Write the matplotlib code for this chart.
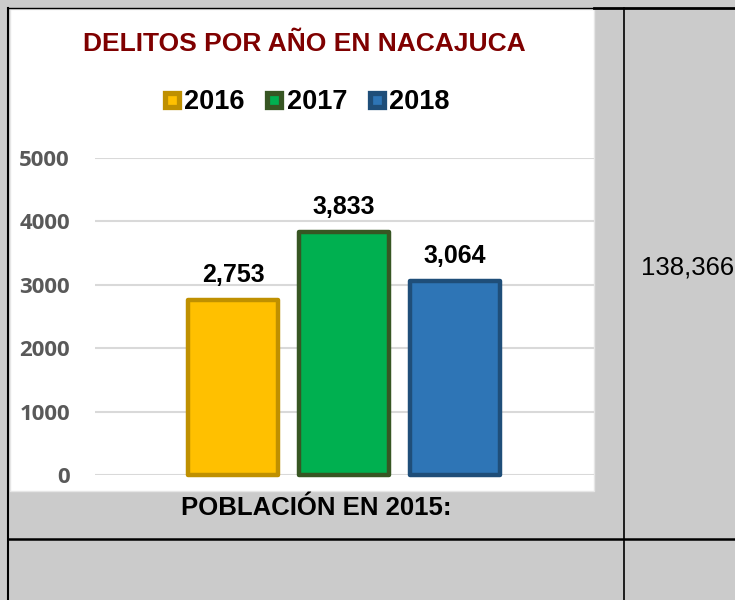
import matplotlib

matplotlib.use("Agg")

import matplotlib.pyplot as plt
from matplotlib.lines import Line2D
from matplotlib.patches import Rectangle


YEARS = ["2016", "2017", "2018"]
DELITOS = [2753, 3833, 3064]
Y_TICKS = [0, 1000, 2000, 3000, 4000, 5000]
TITLE = "DELITOS POR AÑO EN NACAJUCA"
POBLACION_LABEL = "POBLACIÓN EN 2015:"
POBLACION = 138366

FACE_COLORS = ["#FFC000", "#00B050", "#2E75B6"]
EDGE_COLORS = ["#BF9000", "#375623", "#1F4E79"]

W, H = 735, 600


def fx(px):
    return px / W


def fy(py):
    return 1 - py / H


fig = plt.figure(figsize=(W / 100, H / 100), dpi=100)
fig.patch.set_facecolor("#CBCBCB")

# white chart area pasted into the table cell
fig.patches.append(
    Rectangle((fx(10), fy(491)), fx(594) - fx(10), fy(9) - fy(491),
              transform=fig.transFigure, facecolor="white", edgecolor="#E6E6E6",
              linewidth=1.0, zorder=-10)
)

# table borders
border_lines = [
    ((fx(8), fx(594)), (fy(8), fy(8)), 1.0),
    ((fx(594), fx(735)), (fy(8), fy(8)), 2.0),
    ((fx(8), fx(8)), (fy(8), fy(600)), 1.5),
    ((fx(624), fx(624)), (fy(8), fy(600)), 1.2),
    ((fx(8), fx(735)), (fy(539), fy(539)), 1.8),
]
for xs, ys, lw in border_lines:
    fig.add_artist(Line2D(xs, ys, transform=fig.transFigure, color="black", linewidth=lw))

ax = fig.add_axes([fx(95), fy(475), fx(594) - fx(95), fy(158) - fy(475)])
ax.set_facecolor("none")
ax.set_zorder(1)

x_pos = list(range(len(YEARS)))
bars = ax.bar(
    x_pos, DELITOS, width=0.81, color=FACE_COLORS, edgecolor=EDGE_COLORS,
    linewidth=3.2, zorder=3, clip_on=False,
)
for bar in bars:
    bar.set_joinstyle("round")

for x, value in zip(x_pos, DELITOS):
    ax.annotate(f"{value:,}", (x, value), xytext=(0, 13), textcoords="offset points",
                ha="center", va="baseline", fontsize=18, fontweight="bold",
                family="Liberation Sans", color="black")

ax.set_xlim(-1.243, 3.252)
ax.set_ylim(0, 5000)
ax.set_yticks(Y_TICKS)
ax.set_yticklabels([str(t) for t in Y_TICKS], fontsize=16, fontweight="bold",
                   family="Open Sans", color="#595959")
ax.tick_params(axis="y", length=0, pad=18)
ax.set_xticks([])
ax.grid(axis="y", color="#D9D9D9", linewidth=1.5, zorder=0)
for spine in ax.spines.values():
    spine.set_visible(False)

fig.text(fx(304), fy(44), TITLE, ha="center", va="center", fontsize=19,
         fontweight="bold", family="Liberation Sans", color="#7F0000")

handles = [
    Line2D([], [], linestyle="none", marker="s", markersize=10, markerfacecolor=fc,
           markeredgecolor=ec, markeredgewidth=3.8)
    for fc, ec in zip(FACE_COLORS, EDGE_COLORS)
]
fig.legend(handles, YEARS, loc="center", bbox_to_anchor=(fx(306), fy(102)), ncol=3,
           frameon=False, handlelength=0.7, handletextpad=0.1, columnspacing=0.75,
           prop={"family": "Liberation Sans", "weight": "bold", "size": 19.5})

fig.text(fx(316), fy(508), POBLACION_LABEL, ha="center", va="center", fontsize=18.5,
         fontweight="bold", family="Liberation Sans", color="black")
fig.text(fx(641), fy(267), f"{POBLACION:,}", ha="left", va="center", fontsize=18.5,
         family="Liberation Sans", color="black")

fig.savefig("out.png", dpi=100, facecolor=fig.get_facecolor())
